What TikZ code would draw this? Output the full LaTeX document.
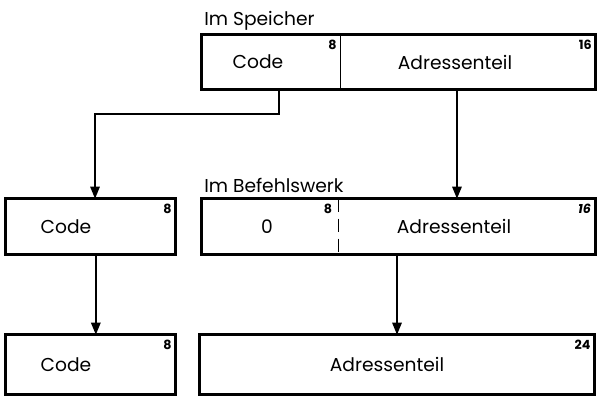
\documentclass[tikz,border=0pt]{standalone}
\usepackage{fontspec}
\setmainfont{Poppins}
\usetikzlibrary{arrows.meta}

\begin{document}
\begin{tikzpicture}[x=0.75pt, y=-0.75pt,
    every node/.style={inner sep=0pt},
    teil/.style={minimum height=40.5pt},
    rahmen/.style={line width=2.1pt},
    wort/.style={font=\fontsize{14}{16}\selectfont},
    bits/.style={font=\fontsize{9.5}{10}\selectfont\bfseries, anchor=north east},
    pfeil/.style={-{Triangle[length=9pt, width=7pt]}, line width=1.3pt}]
  \useasboundingbox (0,0) rectangle (598,397);

  % Top: word in memory
  \node[anchor=base west, wort] (tspeicher) at (204,25) {Im Speicher};
  \node[teil, minimum width=103.5pt] (spcode) at (271,62) {};
  \node[teil, minimum width=191.25pt] (spadr) at (467.5,62) {};
  \draw[rahmen] (spcode.north west) rectangle (spadr.south east);
  \draw[line width=1.1pt] (spcode.north east) -- (spcode.south east);
  \node[wort] (spcodet) at (258,62) {Code};
  \node[wort] (spadrt) at (455,62) {Adressenteil};
  \node[bits] (spcoden) at ([xshift=-2.5pt, yshift=-3.5pt]spcode.north east) {8};
  \node[bits] (spadrn) at ([xshift=-2.5pt, yshift=-3.5pt]spadr.north east) {16};

  % Middle: instruction unit
  \node[anchor=base west, wort] (tbefehl) at (204,192) {Im Befehlswerk};
  \node[teil, minimum width=126.75pt, minimum height=41.25pt] (mcode) at (90.5,226.5) {};
  \node[teil, minimum width=102pt, minimum height=41.25pt] (mnull) at (270,226.5) {};
  \node[teil, minimum width=192.75pt, minimum height=41.25pt] (madr) at (466.5,226.5) {};
  \draw[rahmen] (mcode.north west) rectangle (mcode.south east);
  \draw[rahmen] (mnull.north west) rectangle (madr.south east);
  \draw[line width=1.1pt, dash pattern=on 10pt off 5pt] (mnull.north east) -- (mnull.south east);
  \node[wort] (mcodet) at (66,226.5) {Code};
  \node[wort] (mnullt) at (267,226.5) {0};
  \node[wort] (madrt) at (454,226.5) {Adressenteil};
  \node[bits] (mcoden) at ([xshift=-2.5pt, yshift=-3.5pt]mcode.north east) {8};
  \node[bits] (mnulln) at ([xshift=-4.5pt, yshift=-3.5pt]mnull.north east) {8};
  \node[bits, font=\fontsize{9.5}{10}\selectfont\bfseries\itshape] (madrn) at ([xshift=-3pt, yshift=-3.5pt]madr.north east) {16};

  % Bottom: result
  \node[teil, minimum width=126.75pt, minimum height=44.25pt] (ucode) at (90.5,364.5) {};
  \node[teil, minimum width=296.25pt, minimum height=44.25pt] (uadr) at (397,364.5) {};
  \draw[rahmen] (ucode.north west) rectangle (ucode.south east);
  \draw[rahmen] (uadr.north west) rectangle (uadr.south east);
  \node[wort] (ucodet) at (66,364.5) {Code};
  \node[wort] (uadrt) at (387,364.5) {Adressenteil};
  \node[bits] (ucoden) at ([xshift=-2.5pt, yshift=-3.5pt]ucode.north east) {8};
  \node[bits] (uadrn) at ([xshift=-3pt, yshift=-3.5pt]uadr.north east) {24};

  % Connectors
  \draw[pfeil] ([xshift=6pt]spcode.south) -- ++(0,25) -| ([xshift=3.4pt]mcode.north);
  \draw[pfeil] ([xshift=-7.9pt]spadr.south) -- ([xshift=-7.9pt]spadr.south |- madr.north);
  \draw[pfeil] ([xshift=4pt]mcode.south) -- ([xshift=4pt]ucode.north);
  \draw[pfeil] (uadr.north |- madr.south) -- (uadr.north);
\end{tikzpicture}
\end{document}
